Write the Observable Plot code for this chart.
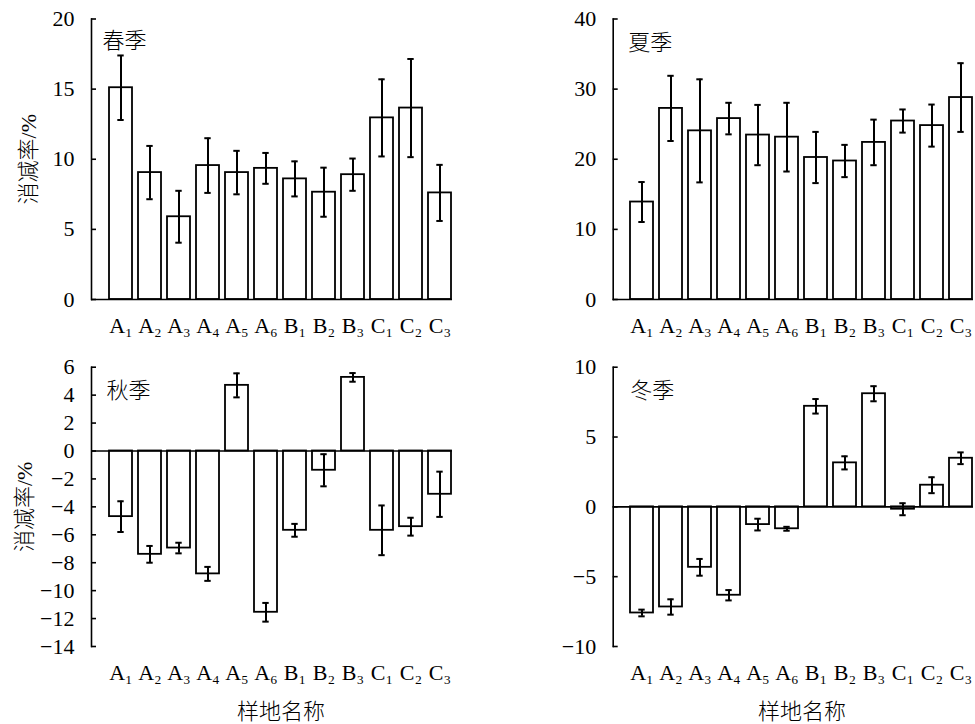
<!DOCTYPE html>
<html><head><meta charset="utf-8">
<script src="https://cdn.jsdelivr.net/npm/d3@7"></script>
<script src="https://cdn.jsdelivr.net/npm/@observablehq/plot@0.6"></script>
<style>
body{margin:0;background:#fff;}
#wrap{position:relative;width:975px;height:724px;overflow:hidden;background:#fff;}
#wrap svg{position:absolute;}
</style></head><body><div id="wrap"></div>
<script>
// categories
const sites = ["A\u2081","A\u2082","A\u2083","A\u2084","A\u2085","A\u2086","B\u2081","B\u2082","B\u2083","C\u2081","C\u2082","C\u2083"];

// series values (消减率 %) and error half-widths
const spring    = [15.1, 9.05, 5.9, 9.55, 9.05, 9.35, 8.6, 7.65, 8.9, 12.95, 13.65, 7.6];
const springErr = [2.3, 1.9, 1.85, 1.95, 1.55, 1.1, 1.25, 1.75, 1.15, 2.75, 3.5, 2.0];
const summer    = [13.9, 27.25, 24.05, 25.8, 23.45, 23.15, 20.25, 19.75, 22.4, 25.45, 24.8, 28.8];
const summerErr = [2.85, 4.65, 7.35, 2.25, 4.3, 4.9, 3.65, 2.3, 3.25, 1.65, 3.0, 4.9];
const autumn    = [-4.7, -7.4, -6.95, -8.8, 4.7, -11.55, -5.68, -1.38, 5.27, -5.68, -5.42, -3.1];
const autumnErr = [1.1, 0.6, 0.38, 0.5, 0.86, 0.67, 0.46, 1.15, 0.31, 1.78, 0.64, 1.62];
const winter    = [-7.6, -7.17, -4.33, -6.33, -1.27, -1.57, 7.2, 3.15, 8.1, -0.17, 1.55, 3.48];
const winterErr = [0.24, 0.55, 0.6, 0.37, 0.42, 0.14, 0.52, 0.47, 0.54, 0.43, 0.57, 0.42];

// tick labels
const springTicks = [0, 5, 10, 15, 20];
const summerTicks = [0, 10, 20, 30, 40];
const autumnTicks = [-14, -12, -10, -8, -6, -4, -2, 0, 2, 4, 6];
const winterTicks = [-10, -5, 0, 5, 10];

const titles = ["春季", "夏季", "秋季", "冬季"];
const yLabelText = "消减率/%";
const xLabelText = "样地名称";

const FONT = "'Liberation Serif', 'Times New Roman', 'Noto Sans CJK SC', serif";
const CJK = "'Noto Sans CJK SC', sans-serif";
const fmt = d => d < 0 ? "\u2212" + Math.abs(d) : String(d);

function panel(o) {
  const data = sites.map((s, i) => ({site: s, v: o.values[i], e: o.errors[i]}));
  const plot = Plot.plot({
    width: o.width, height: o.height,
    marginLeft: o.marginLeft, marginRight: o.marginRight,
    marginTop: o.marginTop, marginBottom: o.marginBottom,
    style: {fontFamily: FONT, fontSize: "22px", color: "black", background: "white", overflow: "visible"},
    x: {domain: sites, paddingInner: 0.2, paddingOuter: 0, insetLeft: o.insetLeft},
    y: {domain: o.domain},
    marks: [
      Plot.barY(data, {x: "site", y: "v", fill: "white", stroke: "black", strokeWidth: 1.8}),
      Plot.ruleY([0], {stroke: "black", strokeWidth: 1.6}),
      Plot.ruleX(data, {x: "site", y1: d => d.v - d.e, y2: d => d.v + d.e, stroke: "black", strokeWidth: 2}),
      Plot.tickY(data, {x: "site", y: d => d.v + d.e, insetLeft: 8.3, insetRight: 8.3, stroke: "black", strokeWidth: 2}),
      Plot.tickY(data, {x: "site", y: d => d.v - d.e, insetLeft: 8.3, insetRight: 8.3, stroke: "black", strokeWidth: 2}),
      Plot.frame({anchor: "left", stroke: "black", strokeWidth: 1.6}),
      Plot.axisY({ticks: o.ticks, tickSize: 0, tickPadding: 17, tickFormat: fmt, label: null, fontSize: 22}),
      Plot.axisY({ticks: o.ticks, tickSize: 5, dx: 5, fill: "none", strokeWidth: 1.6, label: null}),
      Plot.axisX({tickSize: 0, tickPadding: 18, label: null, fontSize: 22}),
      Plot.text([o.title], {frameAnchor: "top-left", textAnchor: "start", lineAnchor: "middle", dx: o.titleDx, dy: o.titleDy, fontSize: 22, fontWeight: 300, fontFamily: CJK}),
      o.yLabel ? Plot.text([o.yLabel], {frameAnchor: "left", textAnchor: "middle", lineAnchor: "middle", rotate: -90, dx: o.yLabelDx, fontSize: 22, fontWeight: 300}) : null,
      o.xLabel ? Plot.text([o.xLabel], {frameAnchor: "bottom", textAnchor: "middle", lineAnchor: "middle", dx: o.insetLeft / 2, dy: 65, fontSize: 22, fontWeight: 300, fontFamily: CJK}) : null
    ]
  });
  plot.style.left = o.left + "px";
  plot.style.top = o.top + "px";
  document.getElementById("wrap").appendChild(plot);
}

panel({values: spring, errors: springErr, domain: [0, 20], ticks: springTicks, title: titles[0],
  left: 0, top: 0, width: 487, height: 340, marginLeft: 91, marginRight: 35, marginTop: 18.5, marginBottom: 41,
  insetLeft: 18, titleDx: 11, titleDy: 21.5, yLabel: yLabelText, yLabelDx: -63});
panel({values: summer, errors: summerErr, domain: [0, 40], ticks: summerTicks, title: titles[1],
  left: 487, top: 0, width: 488, height: 340, marginLeft: 125.7, marginRight: 2, marginTop: 18.5, marginBottom: 41,
  insetLeft: 17.3, titleDx: 15, titleDy: 23.5});
panel({values: autumn, errors: autumnErr, domain: [-14, 6], ticks: autumnTicks, title: titles[2],
  left: 0, top: 340, width: 487, height: 384, marginLeft: 91, marginRight: 35, marginTop: 26.7, marginBottom: 78,
  insetLeft: 18, titleDx: 15, titleDy: 23.3, yLabel: yLabelText, yLabelDx: -67, xLabel: xLabelText});
panel({values: winter, errors: winterErr, domain: [-10, 10], ticks: winterTicks, title: titles[3],
  left: 487, top: 340, width: 488, height: 384, marginLeft: 125.7, marginRight: 2, marginTop: 26.7, marginBottom: 78,
  insetLeft: 17.3, titleDx: 17, titleDy: 23.3, xLabel: xLabelText});
</script>
</body></html>
